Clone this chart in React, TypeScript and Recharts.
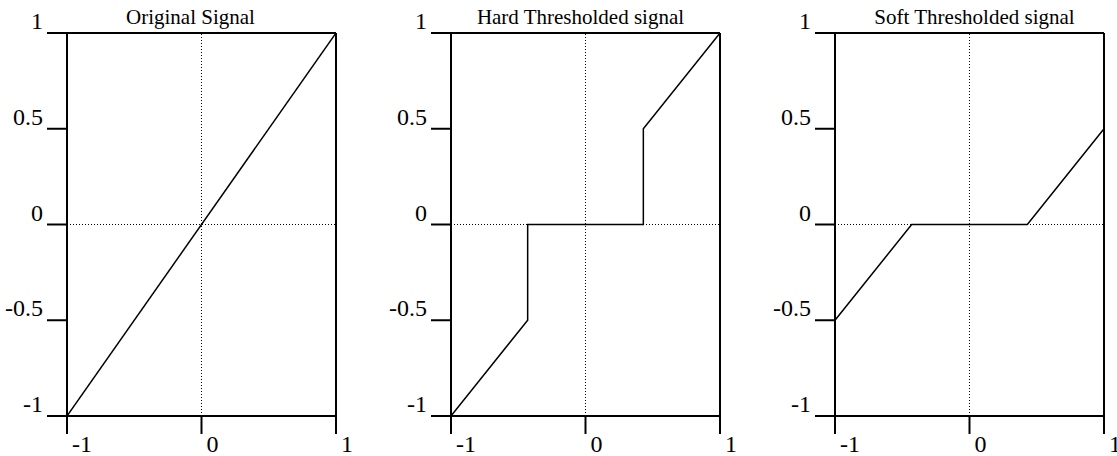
import { LineChart, Line, XAxis, YAxis, ReferenceLine } from 'recharts';

const xTicks = [-1, 0, 1];
const yTicks = [-1, -0.5, 0, 0.5, 1];

const titles = ['Original Signal', 'Hard Thresholded signal', 'Soft Thresholded signal'];

const originalX = [-1, 1];
const originalY = [-1, 1];

const hardX = [-1, -0.43, -0.43, 0.43, 0.43, 1];
const hardY = [-1, -0.5, 0, 0, 0.5, 1];

const softX = [-1, -0.43, 0.43, 1];
const softY = [-0.5, 0, 0, 0.5];

const toRows = (xs: number[], ys: number[]) => xs.map((x, i) => ({ x, y: ys[i] }));

const series = [toRows(originalX, originalY), toRows(hardX, hardY), toRows(softX, softY)];

const FONT = '"Liberation Serif", "Times New Roman", serif';
const axisStyle = { stroke: '#000', strokeWidth: 2 };

// titles in the original sit a little off-centre
const titleShift = [-11, -5, 5];

const YTick = (props: any) => {
  const { x, y, payload } = props;
  return (
    <text x={x - 2} y={y - 4} textAnchor="end" fontSize={24} fontFamily={FONT} fill="#000">
      {String(payload.value)}
    </text>
  );
};

const XTick = (props: any) => {
  const { x, y, payload } = props;
  return (
    <text x={x + 5} y={y + 16} textAnchor="start" fontSize={24} fontFamily={FONT} fill="#000">
      {String(payload.value)}
    </text>
  );
};

const TitleLabel = (props: any) => {
  const { viewBox, value, shift } = props;
  const cx = viewBox.x + viewBox.width / 2 + shift;
  return (
    <text x={cx} y={viewBox.y - 9} textAnchor="middle" fontSize={21} fontFamily={FONT} fill="#000">
      {value}
    </text>
  );
};

const Panel = ({
  data,
  title,
  width,
  shift,
}: {
  data: { x: number; y: number }[];
  title: string;
  width: number;
  shift: number;
}) => (
  <LineChart
    width={width}
    height={456}
    data={data}
    margin={{ top: 33, right: width - 67 - 269, bottom: 0, left: 0 }}
  >
    <XAxis
      dataKey="x"
      type="number"
      domain={[-1, 1]}
      ticks={xTicks}
      height={40}
      tickSize={18}
      axisLine={axisStyle}
      tickLine={axisStyle}
      tick={<XTick />}
      interval={0}
      allowDataOverflow
    />
    <YAxis
      dataKey="y"
      type="number"
      domain={[-1, 1]}
      ticks={yTicks}
      width={67}
      tickSize={20}
      axisLine={axisStyle}
      tickLine={axisStyle}
      tick={<YTick />}
      interval={0}
      allowDataOverflow
    />
    <ReferenceLine x={0} stroke="#000" strokeWidth={1} strokeDasharray="1 2" />
    <ReferenceLine y={0} stroke="#000" strokeWidth={1} strokeDasharray="1 2" />
    <ReferenceLine
      y={1}
      stroke="#000"
      strokeWidth={2}
      label={<TitleLabel value={title} shift={shift} />}
    />
    <ReferenceLine x={1} stroke="#000" strokeWidth={2} />
    <Line
      type="linear"
      dataKey="y"
      stroke="#000"
      strokeWidth={1.5}
      dot={false}
      activeDot={false}
      isAnimationActive={false}
    />
  </LineChart>
);

export default function App() {
  return (
    <div
      style={{
        position: 'absolute',
        left: 0,
        top: 0,
        width: 1117,
        height: 456,
        display: 'flex',
        background: '#fff',
        overflow: 'hidden',
        fontFamily: FONT,
      }}
    >
      <Panel data={series[0]} title={titles[0]} width={384} shift={titleShift[0]} />
      <Panel data={series[1]} title={titles[1]} width={384} shift={titleShift[1]} />
      <Panel data={series[2]} title={titles[2]} width={349} shift={titleShift[2]} />
    </div>
  );
}
